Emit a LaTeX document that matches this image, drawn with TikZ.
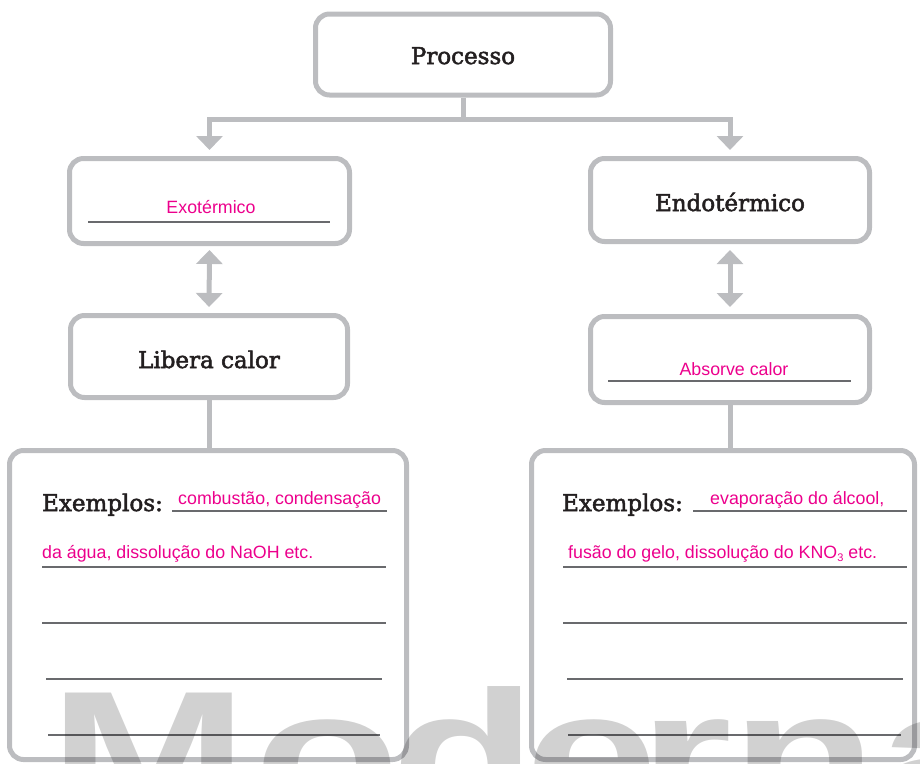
\documentclass[tikz,border=0pt]{standalone}
\usepackage{graphicx}
\usepackage{fontspec}
\setmainfont{DejaVu Serif}
\newfontfamily\labelfont{DejaVu Serif}[FakeBold=2.3]
\newfontfamily\answerfont{Liberation Sans}
\newfontfamily\stampfont{Liberation Sans}
\usetikzlibrary{arrows.meta}
\definecolor{boxgray}{RGB}{188,189,192}
\definecolor{rulegray}{RGB}{105,106,109}
\definecolor{answer}{RGB}{236,0,140}
\definecolor{ink}{RGB}{35,31,32}
\begin{document}
\begin{tikzpicture}[x=1pt,y=-1pt,
  card/.style={draw=boxgray, line width=5pt, rounded corners=14pt, inner sep=0pt},
  label/.style={font=\labelfont\fontsize{23}{23}\selectfont, text=ink, inner sep=0pt},
  ans/.style={font=\answerfont\fontsize{17.8}{18}\selectfont, text=answer, inner sep=0pt},
  ansline/.style={draw=rulegray, line width=1.3pt},
  link/.style={draw=boxgray, line width=5pt},
  tipdown/.style={-{Triangle[width=26pt,length=14pt]}},
  tipboth/.style={{Triangle[width=26pt,length=14pt]}-{Triangle[width=26pt,length=14pt]}},
  stamp/.style={font=\stampfont\bfseries\fontsize{178}{178}\selectfont, text=black, text opacity=0.18, inner sep=0pt, anchor=base west}
]
\useasboundingbox (0,0) rectangle (920,763);

% boxes
\node[card, minimum width=295pt, minimum height=81pt] (proc) at (463,54.5) {};
\node[card, minimum width=280pt, minimum height=85pt] (exo)  at (209.5,201) {};
\node[card, minimum width=277pt, minimum height=82pt] (lib)  at (209,356.5) {};
\node[card, minimum width=279pt, minimum height=83pt] (endo) at (730,200) {};
\node[card, minimum width=279pt, minimum height=86pt] (abs)  at (730,359.5) {};
\node[card, minimum width=397pt, minimum height=309pt] (exL) at (208,605) {};
\node[card, minimum width=383pt, minimum height=309pt] (exR) at (723,605) {};

% connectors
\coordinate (split) at (463,119);
\draw[link] (proc.south) -- (split);
\draw[link, tipdown, shorten >=6pt] (split) -| (exo.north);
\draw[link, tipdown, shorten >=6pt] (split) -| (endo.north);
\draw[link, tipboth, shorten <=4pt, shorten >=6pt] (exo.south) -- (lib.north);
\draw[link, tipboth, shorten <=6pt, shorten >=7pt] (endo.south) -- (abs.north);
\draw[link] (lib.south) -- (lib.south |- exL.north);
\draw[link] (abs.south) -- (abs.south |- exR.north);

% printed labels
\node[label, anchor=base] (tproc) at (463,64) {Processo};
\node[label, anchor=base] (tlib)  at (209,368) {Libera calor};
\node[label, anchor=base] (tendo) at (730,211) {Endotérmico};
\node[label, anchor=base west] (texL) at (42,511) {Exemplos:};
\node[label, anchor=base west] (texR) at (562,511) {Exemplos:};

% writing lines
\draw[ansline] (88,222) -- (330,222);
\draw[ansline] (608,381) -- (851,381);
\draw[ansline] (172,511) -- (387,511);
\draw[ansline] (42,567) -- (386,567);
\draw[ansline] (42,623) -- (386,623);
\draw[ansline] (46,679) -- (382,679);
\draw[ansline] (48,735) -- (380,735);
\draw[ansline] (693,511) -- (907,511);
\draw[ansline] (563,567) -- (907,567);
\draw[ansline] (563,623) -- (907,623);
\draw[ansline] (567,679) -- (903,679);
\draw[ansline] (568,735) -- (901,735);

% handwritten answers
\node[ans, anchor=base] (aexo) at (211,213) {Exotérmico};
\node[ans, anchor=base] (aabs) at (734,375) {Absorve calor};
\node[ans, anchor=base west] (aL1) at (178,504) {combustão, condensação};
\node[ans, anchor=base west] (aL2) at (42,558) {da água, dissolução do NaOH etc.};
\node[ans, anchor=base west] (aR1) at (710,504) {evaporação do álcool,};
\node[ans, anchor=base west] (aR2) at (568,558) {fusão do gelo, dissolução do KNO\raisebox{-0.22em}{\fontsize{11}{11}\selectfont 3} etc.};

% publisher stamp across the bottom
\begin{scope}
\clip (0,0) rectangle (920,763);
\node[stamp] (sM) at (49,815)  {\scalebox{1.34}[1]{M}};
\node[stamp] (so) at (254,815) {\scalebox{1.34}[1]{o}};
\node[stamp] (sd) at (391,815) {\scalebox{1.34}[1]{d}};
\node[stamp] (se) at (525,815) {\scalebox{1.34}[1]{e}};
\node[stamp] (sr) at (639,815) {\scalebox{1.34}[1]{r}};
\node[stamp] (sn) at (731,815) {\scalebox{1.34}[1]{n}};
\node[stamp] (sa) at (879,815) {\scalebox{1.34}[1]{a}};
\end{scope}
\end{tikzpicture}
\end{document}
